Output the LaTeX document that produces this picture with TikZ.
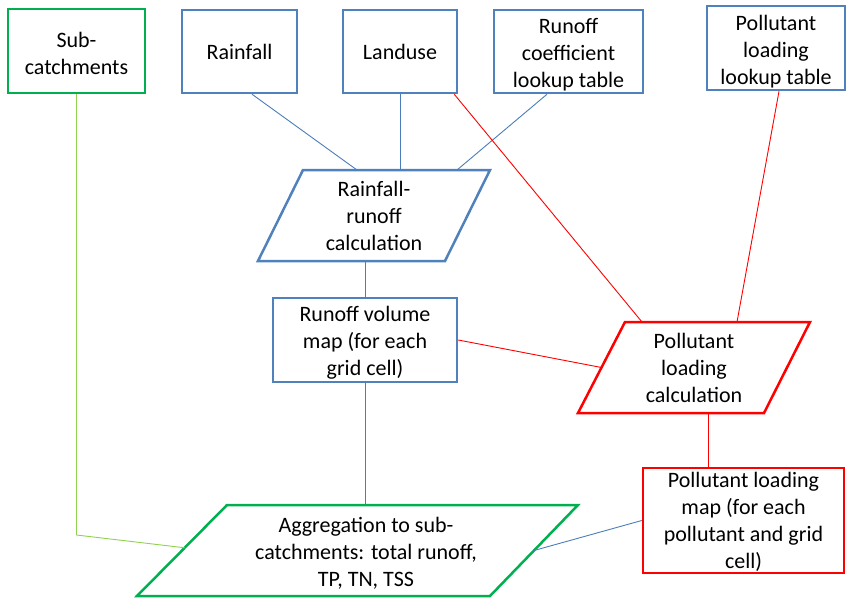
\documentclass[tikz,border=0pt]{standalone}
\usepackage{fontspec}
\setmainfont{Carlito}
\usetikzlibrary{calc}
\definecolor{bblue}{HTML}{4F81BD}
\definecolor{lblue}{HTML}{4A7EBB}
\definecolor{bgreen}{HTML}{00B050}
\definecolor{lgreen}{HTML}{92D050}
\definecolor{bred}{HTML}{FF0000}
\begin{document}
\begin{tikzpicture}[x=1pt,y=-1pt,
  txt/.style={align=center,inner sep=0pt,text=black,font=\fontsize{22}{27}\selectfont},
  box/.style={draw,line width=2.5pt,inner sep=0pt},
  para/.style={line width=2.5pt,line join=miter},
  conn/.style={line width=0.9pt}]
\useasboundingbox (0,0) rectangle (846,599);

% rectangular boxes
\node[box,draw=bgreen,minimum width=137pt,minimum height=84pt] (sub) at (76.5,51) {};
\node[txt] (subT) at (76.5,53) {Sub-\\catchments};
\node[box,draw=bblue,minimum width=115pt,minimum height=83pt] (rain) at (239.5,51.5) {};
\node[txt] (rainT) at (239.5,52) {Rainfall};
\node[box,draw=bblue,minimum width=114pt,minimum height=83pt] (land) at (400,51.5) {};
\node[txt] (landT) at (400,52) {Landuse};
\node[box,draw=bblue,minimum width=149pt,minimum height=83pt] (coef) at (568.5,51.5) {};
\node[txt] (coefT) at (568.5,54.5) {Runoff\\coefficient\\lookup table};
\node[box,draw=bblue,minimum width=138pt,minimum height=84pt] (plook) at (776,48) {};
\node[txt] (plookT) at (776,51.5) {Pollutant\\loading\\lookup table};
\node[box,draw=bblue,minimum width=184pt,minimum height=84pt] (rv) at (365,340) {};
\node[txt] (rvT) at (365,343) {Runoff volume\\map (for each\\grid cell)};
\node[box,draw=bred,minimum width=201pt,minimum height=105pt] (pmap) at (743.5,520.5) {};
\node[txt] (pmapT) at (743.5,522) {Pollutant loading\\map (for each\\pollutant and grid\\cell)};

% parallelograms
\coordinate (rrTL) at (303,170); \coordinate (rrTR) at (490,170);
\coordinate (rrBR) at (445,261); \coordinate (rrBL) at (258,261);
\draw[para,bblue] (rrTL) -- (rrTR) -- (rrBR) -- (rrBL) -- cycle;
\node[txt] (rr) at (374,216) {Rainfall-\\runoff\\calculation};

\coordinate (pcTL) at (625,322); \coordinate (pcTR) at (810,322);
\coordinate (pcBR) at (764,413); \coordinate (pcBL) at (578,413);
\draw[para,bred] (pcTL) -- (pcTR) -- (pcBR) -- (pcBL) -- cycle;
\node[txt] (pc) at (694,367.5) {Pollutant\\loading\\calculation};

\coordinate (agTL) at (227,505); \coordinate (agTR) at (578,505);
\coordinate (agBR) at (490,596); \coordinate (agBL) at (137,596);
\draw[para,bgreen] (agTL) -- (agTR) -- (agBR) -- (agBL) -- cycle;
\node[txt] (ag) at (366,553.5) {Aggregation to sub-\\catchments: total runoff,\\TP, TN, TSS};

% connector end points on shape edges
\coordinate (rrIn1) at (357,170);
\coordinate (rrIn2) at (400,170);
\coordinate (rrIn3) at (457,170);
\coordinate (rrOut) at (365,261);
\coordinate (pcIn1) at (642,322);
\coordinate (pcIn2) at (737,322);
\coordinate (pcIn3) at ($(pcTL)!0.5!(pcBL)$);
\coordinate (pcOut) at (708,413);
\coordinate (agIn1) at (365,505);
\coordinate (agIn2) at ($(agTR)!0.5!(agBR)$);
\coordinate (agIn3) at ($(agTL)!0.47!(agBL)$);
\coordinate (subBend) at (76.5,535);

% connectors
\draw[conn,lblue] ([xshift=12.5pt]rain.south) -- (rrIn1);
\draw[conn,lblue] (land.south) -- (rrIn2);
\draw[conn,lblue] ([xshift=-21.5pt]coef.south) -- (rrIn3);
\draw[conn,bred] ([xshift=-4pt]land.south east) -- (pcIn1);
\draw[conn,bred] ([xshift=3pt]plook.south) -- (pcIn2);
\draw[conn,lblue] (rrOut) -- (rv.north);
\draw[conn,bred] (rv.east) -- (pcIn3);
\draw[conn,lblue] (rv.south) -- (agIn1);
\draw[conn,bred] (pcOut) -- ([xshift=-35.5pt]pmap.north);
\draw[conn,lblue] (pmap.west) -- (agIn2);
\draw[conn,lgreen] (sub.south) -- (subBend) -- (agIn3);
\end{tikzpicture}
\end{document}
